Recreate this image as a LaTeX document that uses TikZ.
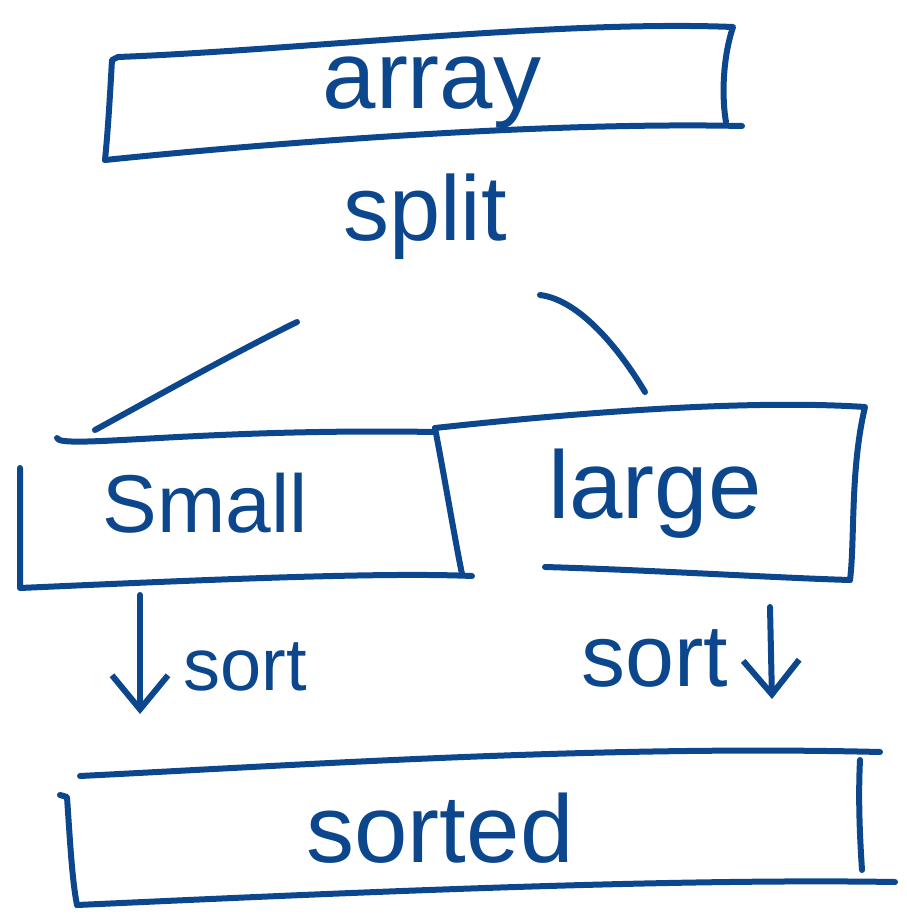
\documentclass[tikz,border=0pt]{standalone}
\usepackage{fontspec}
\setmainfont{Liberation Sans}
\usetikzlibrary{arrows.meta}
\definecolor{ink}{RGB}{12,70,140}
\tikzset{
  pen/.style={draw=ink, line width=6pt, line cap=round, line join=round},
  word/.style={text=ink, inner sep=0pt, anchor=base},
  down/.style={pen, -{Straight Barb[length=34pt, width=56pt, line width=6pt]}}
}
\begin{document}
\begin{tikzpicture}[x=1pt, y=-1pt]
\useasboundingbox (0,0) rectangle (907,918);

% top box: array
\draw[pen] (118,57) .. controls (300,50) and (560,20) .. (733,27)
           .. controls (722,60) and (722,100) .. (726,122);
\draw[pen] (118,57) -- (112,60) .. controls (110,95) and (108,130) .. (105,160);
\draw[pen] (105,160) .. controls (300,140) and (560,122) .. (742,126);
\node[word, font=\fontsize{96}{96}\selectfont] (array) at (432,108) {array};

% split label and the two branch strokes
\node[word, font=\fontsize{92}{92}\selectfont] (split) at (425,240) {split};
\coordinate (l1) at (297,322);
\coordinate (l2) at (95,430);
\coordinate (r1) at (540,295);
\coordinate (r2) at (645,392);
\draw[pen] (l1) .. controls (230,355) and (150,400) .. (l2);
\draw[pen] (r1) .. controls (580,300) and (620,350) .. (r2);

% small / large boxes
\draw[pen] (57,438) .. controls (60,450) and (200,428) .. (435,432);
\draw[pen] (20,468) -- (20,588) .. controls (200,580) and (380,572) .. (472,576);
\draw[pen] (435,428) .. controls (600,410) and (760,400) .. (865,407)
           .. controls (850,470) and (855,540) .. (850,580);
\draw[pen] (435,428) .. controls (445,480) and (455,540) .. (462,574);
\draw[pen] (545,567) .. controls (650,570) and (780,578) .. (850,580);
\node[word, font=\fontsize{82}{82}\selectfont] (small) at (205,532) {Small};
\node[word, font=\fontsize{96}{96}\selectfont] (large) at (655,518) {large};

% sort arrows
\coordinate (a1) at (140,595);
\coordinate (a2) at (140,714);
\draw[down] (a1) -- (a2);
\node[word, font=\fontsize{74}{74}\selectfont] (sortl) at (245,690) {sort};
\coordinate (b1) at (770,607);
\coordinate (b2) at (772,699);
\draw[down] (b1) -- (b2);
\node[word, font=\fontsize{88}{88}\selectfont] (sortr) at (655,686) {sort};

% bottom box: sorted
\draw[pen] (80,776) .. controls (300,765) and (600,745) .. (880,752);
\draw[pen] (60,795) -- (67,797) .. controls (70,840) and (72,880) .. (77,905);
\draw[pen] (77,905) .. controls (300,895) and (650,878) .. (895,882);
\draw[pen] (860,760) .. controls (858,800) and (860,840) .. (862,870);
\node[word, font=\fontsize{96}{96}\selectfont] (sorted) at (440,862) {sorted};
\end{tikzpicture}
\end{document}
